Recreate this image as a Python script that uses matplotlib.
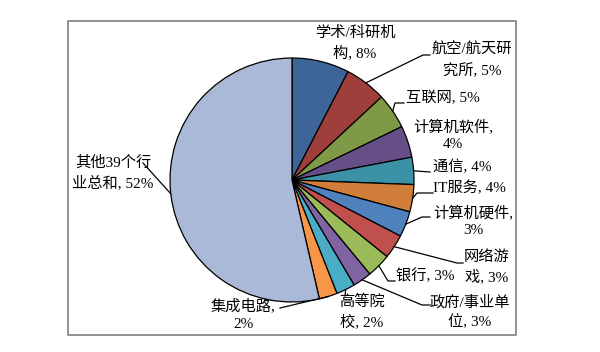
import numpy as np
import matplotlib
matplotlib.use("Agg")
import matplotlib.pyplot as plt
from matplotlib.patches import Rectangle

plt.rcParams['font.family'] = ['Liberation Serif', 'Noto Sans CJK SC', 'DejaVu Sans']

# shares (percent)
names = ["学术/科研机构", "航空/航天研究所", "互联网", "计算机软件", "通信", "IT服务",
         "计算机硬件", "网络游戏", "银行", "政府/事业单位", "高等院校", "集成电路",
         "其他39个行业总和"]
shares = [7.6, 5.5, 4.7, 4.2, 3.6, 3.6, 3.4, 3.2, 3.2, 2.5, 2.5, 2.4, 53.6]
pct_labels = ["8%", "5%", "5%", "4%", "4%", "4%", "3%", "3%", "3%", "3%", "2%", "2%", "52%"]
colors = ["#3E6598", "#9E3F3C", "#7E9A46", "#664F86", "#3B91A6", "#D07E3A",
          "#4F81BD", "#C0504D", "#9BBB59", "#8064A2", "#4BACC6", "#F79646", "#AAB9D7"]

# where each label wraps onto a second line (None = single line)
wrap_at = [6, 6, None, 6, None, None, 6, 3, None, 6, 3, 5, 6]

W, H = 600, 352
fig = plt.figure(figsize=(W / 100, H / 100), dpi=100)
ax = fig.add_axes([0, 0, 1, 1])

cx, cy, r = 292, H - 180, 122
wedges, _ = ax.pie(shares, colors=colors, startangle=90, counterclock=False,
                   center=(cx, cy), radius=r,
                   wedgeprops=dict(edgecolor="black", linewidth=0.9))
ax.set_xlim(0, W)
ax.set_ylim(0, H)
ax.set_aspect("equal")
ax.axis("off")

# frame around chart area
ax.add_patch(Rectangle((68, H - 335), 448, 314, fill=False, edgecolor="#8a8a8a", lw=1.3))

# label centres and leader bend points (pixel coords, y measured from top)
text_pos = [(355, 43), (472, 60), (443, 98), (453, 135), (462, 167), (469, 188),
            (473, 221), (487, 267), (425, 276), (470, 312), (362, 312), (243, 315),
            (113, 173)]
leaders = [None,
           [(423, 55), (430, 55)],
           [(395, 103), (404, 103)],
           None,
           [(430, 172)],
           [(417, 193), (433, 193)],
           [(422, 217), (430, 217)],
           [(457, 263), (463, 263)],
           [(388, 281), (395, 281)],
           [(422, 305), (430, 305)],
           [(345, 296)],
           [(280, 308)],
           [(143, 163)]]

for i, w in enumerate(wedges):
    txt = f"{names[i]}, {pct_labels[i]}"
    if wrap_at[i] is not None:
        txt = txt[:wrap_at[i]] + "\n" + txt[wrap_at[i]:].lstrip()
    tx, ty = text_pos[i]
    ax.text(tx, H - ty, txt, ha="center", va="center", fontsize=11,
            linespacing=1.45, color="black")
    if leaders[i] is not None:
        mid = np.deg2rad((w.theta1 + w.theta2) / 2)
        pts = [(cx + r * np.cos(mid), cy + r * np.sin(mid))]
        pts += [(x, H - y) for x, y in leaders[i]]
        xs, ys = zip(*pts)
        ax.plot(xs, ys, color="black", lw=0.9)

plt.savefig("out.png", dpi=100)
